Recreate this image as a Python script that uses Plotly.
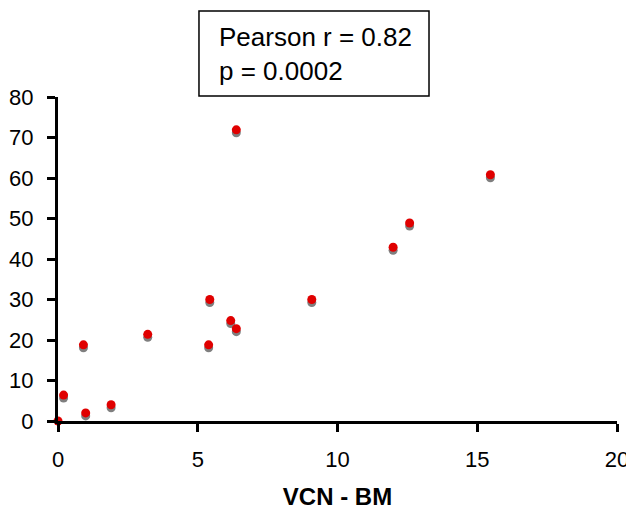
import plotly.graph_objects as go

# Data
vcn_bm = [0.0, 0.2, 0.91, 0.99, 1.9, 3.21, 5.39, 5.43, 6.18, 6.38, 6.38, 9.08, 11.99, 12.58, 15.47]
y_vals = [0.0, 6.4, 18.8, 2.0, 4.0, 21.4, 18.8, 30.0, 24.8, 22.8, 71.9, 30.0, 42.9, 48.9, 60.8]
x_ticks = [0, 5, 10, 15, 20]
y_ticks = [0, 10, 20, 30, 40, 50, 60, 70, 80]
stats_text = "Pearson r = 0.82<br>p = 0.0002"
x_title = "VCN - BM"

FONT = "Liberation Sans, Arial, sans-serif"
plot_h = 324.0
shadow_px = 3.0
shadow_d = shadow_px / plot_h * 80

fig = go.Figure()
# shadow (gray) on the hidden base axis, shifted a few pixels down
fig.add_trace(go.Scatter(x=vcn_bm, y=y_vals, mode="markers", yaxis="y",
                         marker=dict(size=9, color="#7f7f7f"),
                         cliponaxis=False, hoverinfo="skip", showlegend=False))
# red points on the visible overlaid axis
fig.add_trace(go.Scatter(x=vcn_bm, y=y_vals, mode="markers", yaxis="y2",
                         marker=dict(size=9, color="#e00000"),
                         cliponaxis=False, showlegend=False))

fig.update_layout(
    width=626, height=505,
    margin=dict(l=50, r=17, t=89, b=92),
    paper_bgcolor="white", plot_bgcolor="white",
    font=dict(family=FONT, color="black", size=22),
    xaxis=dict(range=[0, 20], tickvals=x_ticks, showgrid=False, zeroline=False,
               showline=True, linecolor="black", linewidth=3,
               ticks="outside", ticklen=8, tickwidth=3, tickcolor="black",
               ticklabelstandoff=9, automargin=False,
               tickfont=dict(size=22, family=FONT),
               title=dict(text="<b>" + x_title + "</b>", font=dict(size=24, family=FONT), standoff=17)),
    yaxis=dict(range=[shadow_d, 80 + shadow_d], visible=False, automargin=False),
    yaxis2=dict(range=[0, 80], overlaying="y", side="left", tickvals=y_ticks,
                showgrid=False, zeroline=False,
                showline=True, linecolor="black", linewidth=3,
                ticks="outside", ticklen=8, tickwidth=3, tickcolor="black",
                ticklabelstandoff=9, automargin=False,
                tickfont=dict(size=22, family=FONT)),
    shapes=[dict(type="rect", xref="paper", yref="paper",
                 x0=0.2522, x1=0.6637, y0=1.0031, y1=1.2654,
                 line=dict(color="black", width=1.5), fillcolor="white", layer="below")],
    annotations=[dict(text=stats_text, xref="paper", yref="paper", x=0.285, y=1.1327,
                      xanchor="left", yanchor="middle", align="left", showarrow=False,
                      font=dict(size=26, family=FONT, color="black"))],
)

fig.write_html("out.html")
